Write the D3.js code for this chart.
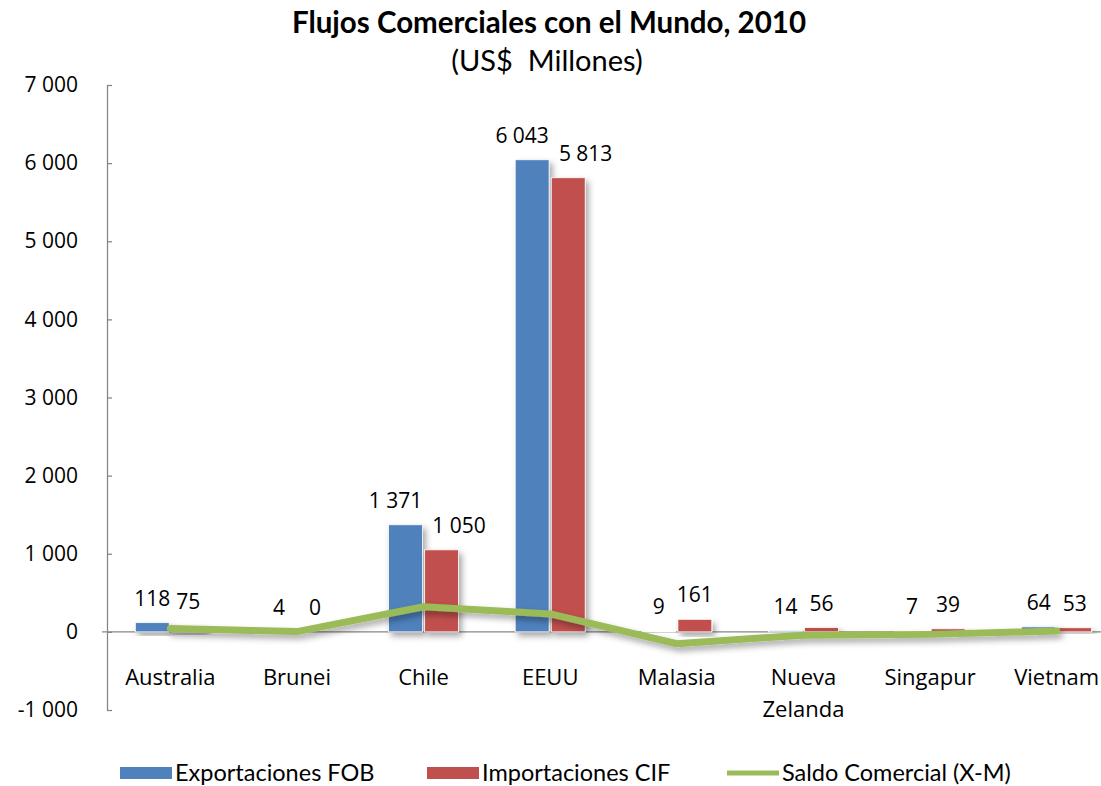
<!DOCTYPE html>
<html>
<head>
<meta charset="utf-8">
<script src="https://cdn.jsdelivr.net/npm/d3@7"></script>
<style>
  body { margin: 0; background: #fff; }
  svg { display: block; }
  text { fill: #000; }
</style>
</head>
<body>
<div id="chart"></div>
<script>
var categories = ["Australia", "Brunei", "Chile", "EEUU", "Malasia", "Nueva Zelanda", "Singapur", "Vietnam"];
var exportaciones = [118, 4, 1371, 6043, 9, 14, 7, 64];
var importaciones = [75, 0, 1050, 5813, 161, 56, 39, 53];
var saldo = [43, 4, 321, 230, -152, -42, -32, 11];
var yTicks = [-1000, 0, 1000, 2000, 3000, 4000, 5000, 6000, 7000];

var w = 1101, h = 786;
var plotLeft = 107, plotRight = 1120, plotTop = 85, plotBottom = 710;

var svg = d3.select("#chart")
	.append("svg")
	.attr("width", w)
	.attr("height", h);

var defs = svg.append("defs");
var shadow = defs.append("filter")
	.attr("id", "shadow")
	.attr("x", "-20%").attr("y", "-20%")
	.attr("width", "160%").attr("height", "160%");
shadow.append("feDropShadow")
	.attr("dx", 3).attr("dy", 4)
	.attr("stdDeviation", 3)
	.attr("flood-color", "#000")
	.attr("flood-opacity", 0.35);

var loc = d3.formatLocale({decimal: ",", thousands: " ", grouping: [3], currency: ["$", ""], minus: "-"});
var fmt = loc.format(",d");

var font = "'Open Sans', sans-serif";

var xScale = d3.scaleBand()
	.domain(categories)
	.range([plotLeft, plotRight])
	.paddingInner(0)
	.paddingOuter(0);

var bw = xScale.bandwidth();
var xInner = d3.scaleBand()
	.domain(["exp", "imp"])
	.range([bw / 2 - 35, bw / 2 + 35])
	.paddingInner(0.06);

var yScale = d3.scaleLinear()
	.domain([-1000, 7000])
	.range([plotBottom, plotTop]);

var dataset = categories.map(function(c, i) {
	return {cat: c, exp: exportaciones[i], imp: importaciones[i], saldo: saldo[i]};
});

// y axis
var yAxis = d3.axisLeft(yScale)
	.tickValues(yTicks)
	.tickFormat(fmt)
	.tickSizeInner(-5)
	.tickSizeOuter(0)
	.tickPadding(29);

var gy = svg.append("g")
	.attr("transform", "translate(" + plotLeft + ",0)")
	.call(yAxis);
gy.select(".domain").attr("stroke", "#878787").attr("stroke-width", 1.3);
gy.selectAll(".tick line").attr("stroke", "#878787").attr("stroke-width", 1.3);
gy.selectAll(".tick text")
	.style("font-family", font)
	.style("font-size", "21px")
	.attr("fill", "#000");

// zero line
svg.append("line")
	.attr("x1", plotLeft - 5)
	.attr("x2", w)
	.attr("y1", yScale(0))
	.attr("y2", yScale(0))
	.attr("stroke", "#878787")
	.attr("stroke-width", 1.3);

// bars
var groups = svg.selectAll("g.grp")
	.data(dataset)
	.enter()
	.append("g")
	.attr("class", "grp")
	.attr("transform", d => "translate(" + xScale(d.cat) + ",0)");

var series = [{key: "exp", color: "#4F81BD"}, {key: "imp", color: "#C0504D"}];

series.forEach(function(s) {
	groups.append("rect")
		.attr("x", xInner(s.key))
		.attr("y", d => yScale(Math.max(0, d[s.key])))
		.attr("width", xInner.bandwidth())
		.attr("height", d => Math.abs(yScale(d[s.key]) - yScale(0)))
		.attr("fill", s.color)
		.attr("stroke", "#fff")
		.attr("stroke-width", 0.8)
		.attr("filter", "url(#shadow)");
});

// saldo line
var line = d3.line()
	.x(d => xScale(d.cat) + bw / 2)
	.y(d => yScale(d.saldo));

svg.append("path")
	.datum(dataset)
	.attr("d", line)
	.attr("fill", "none")
	.attr("stroke", "#9BBB59")
	.attr("stroke-width", 7)
	.attr("stroke-linecap", "round")
	.attr("stroke-linejoin", "round")
	.attr("filter", "url(#shadow)");

// data labels
series.forEach(function(s) {
	groups.append("text")
		.attr("class", "lbl-" + s.key)
		.attr("x", xInner(s.key) + xInner.bandwidth() / 2)
		.attr("y", d => yScale(Math.max(0, d[s.key])) - 17)
		.attr("text-anchor", "middle")
		.style("font-family", font)
		.style("font-size", "21px")
		.text(d => fmt(d[s.key]));
});

// push apart labels that collide
groups.each(function() {
	var g = d3.select(this);
	var a = g.select(".lbl-exp"), b = g.select(".lbl-imp");
	var ax = +a.attr("x"), bx = +b.attr("x");
	var aw = a.node().getComputedTextLength(), bwid = b.node().getComputedTextLength();
	var dy = Math.abs(+a.attr("y") - +b.attr("y"));
	if (dy < 30 && ax + aw / 2 + 6 > bx - bwid / 2) {
		ax -= 10;
		a.attr("x", ax);
		b.attr("x", ax + aw / 2 + 10 + bwid / 2);
	}
});

// category labels
var catLabels = svg.selectAll("text.cat")
	.data(dataset)
	.enter()
	.append("text")
	.attr("class", "cat")
	.attr("x", d => xScale(d.cat) + bw / 2)
	.attr("y", 685)
	.attr("text-anchor", "middle")
	.style("font-family", font)
	.style("font-size", "22px");

catLabels.each(function(d) {
	var words = d.cat.split(" ");
	var t = d3.select(this);
	words.forEach(function(wd, i) {
		t.append("tspan")
			.attr("x", xScale(d.cat) + bw / 2)
			.attr("dy", i === 0 ? 0 : 32)
			.text(wd);
	});
});

// title
svg.append("text")
	.attr("x", 549)
	.attr("y", 33)
	.attr("text-anchor", "middle")
	.style("font-family", "Lato, sans-serif")
	.style("font-weight", "bold")
	.style("font-size", "29.5px")
	.text("Flujos Comerciales con el Mundo, 2010");

svg.append("text")
	.attr("x", 547)
	.attr("y", 71)
	.attr("text-anchor", "middle")
	.style("font-family", "Lato, sans-serif")
	.style("font-size", "29px")
	.style("white-space", "pre")
	.text("(US$  Millones)");

// legend
var legendItems = [
	{label: "Exportaciones FOB", color: "#4F81BD", type: "rect", x: 120},
	{label: "Importaciones CIF", color: "#C0504D", type: "rect", x: 427},
	{label: "Saldo Comercial (X-M)", color: "#9BBB59", type: "line", x: 727}
];

var legend = svg.selectAll("g.legend")
	.data(legendItems)
	.enter()
	.append("g")
	.attr("class", "legend")
	.attr("transform", d => "translate(" + d.x + ",773)");

legend.filter(d => d.type === "rect")
	.append("rect")
	.attr("x", 0).attr("y", -6)
	.attr("width", 52).attr("height", 12)
	.attr("fill", d => d.color);

legend.filter(d => d.type === "line")
	.append("line")
	.attr("x1", 0).attr("x2", 52)
	.attr("y1", 0).attr("y2", 0)
	.attr("stroke", d => d.color)
	.attr("stroke-width", 5);

legend.append("text")
	.attr("x", 55)
	.attr("y", 8)
	.style("font-family", "Lato, sans-serif")
	.style("font-size", "23.5px")
	.text(d => d.label);
</script>
</body>
</html>
